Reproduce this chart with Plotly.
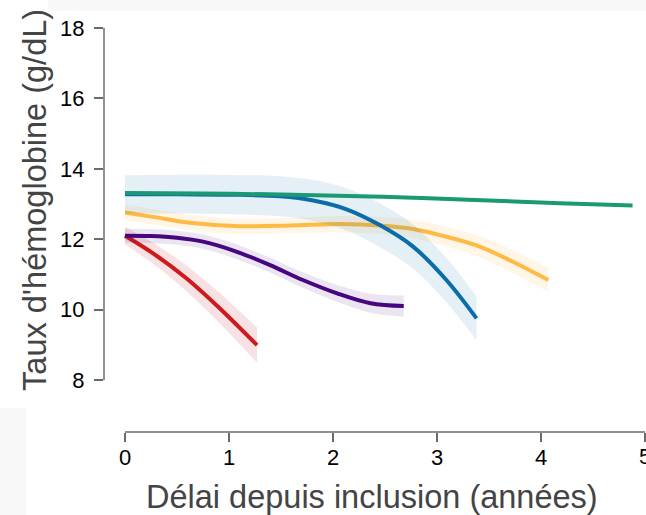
import plotly.graph_objects as go

# ---- data ----
red_x = [0, 0.27, 0.59, 0.91, 1.27]
red_y = [12.10, 11.60, 10.89, 10.04, 8.99]
red_hw = [0.25, 0.30, 0.36, 0.43, 0.50]

purple_x = [0, 0.25, 0.5, 0.75, 1.07, 1.39, 1.71, 2.04, 2.36, 2.68]
purple_y = [12.10, 12.09, 12.04, 11.93, 11.65, 11.27, 10.84, 10.46, 10.18, 10.10]
purple_hw = [0.20, 0.20, 0.20, 0.20, 0.21, 0.21, 0.22, 0.24, 0.27, 0.30]

yellow_x = [0, 0.3, 0.625, 1.1, 1.59, 2.07, 2.45, 2.77, 3.09, 3.41, 3.73, 4.07]
yellow_y = [12.76, 12.62, 12.47, 12.37, 12.39, 12.43, 12.39, 12.29, 12.07, 11.79, 11.36, 10.84]
yellow_hw = [0.22, 0.22, 0.22, 0.22, 0.22, 0.23, 0.24, 0.26, 0.28, 0.30, 0.32, 0.34]

blue_x = [0, 0.5, 1.1, 1.49, 1.81, 2.13, 2.45, 2.77, 3.09, 3.38]
blue_y = [13.28, 13.28, 13.26, 13.22, 13.10, 12.85, 12.40, 11.79, 10.84, 9.75]
blue_hw = [0.54, 0.55, 0.56, 0.57, 0.58, 0.60, 0.62, 0.63, 0.63, 0.62]

green_x = [0, 1.5, 2.85, 4.18, 4.88]
green_y = [13.31, 13.27, 13.17, 13.02, 12.96]
green_hw = [0.04, 0.04, 0.04, 0.04, 0.04]

x_ticks = [0, 1, 2, 3, 4, 5]
y_ticks = [8, 10, 12, 14, 16, 18]

series = [
    (red_x, red_y, red_hw, "#CC1A1F", "rgba(204,26,31,0.13)"),
    (purple_x, purple_y, purple_hw, "#45067F", "rgba(69,6,127,0.11)"),
    (yellow_x, yellow_y, yellow_hw, "#FDBA45", "rgba(253,186,69,0.13)"),
    (blue_x, blue_y, blue_hw, "#0A6DAA", "rgba(10,109,170,0.11)"),
    (green_x, green_y, green_hw, "#1A9A72", "rgba(26,154,114,0.15)"),
]

fig = go.Figure()
for xs, ys, hw, col, fillcol in series:
    lo = [y - h for y, h in zip(ys, hw)]
    hi = [y + h for y, h in zip(ys, hw)]
    fig.add_trace(go.Scatter(x=xs, y=lo, mode="lines", line=dict(width=0, shape="spline"),
                             showlegend=False, hoverinfo="skip"))
    fig.add_trace(go.Scatter(x=xs, y=hi, mode="lines", line=dict(width=0, shape="spline"),
                             fill="tonexty", fillcolor=fillcol, showlegend=False, hoverinfo="skip"))
    fig.add_trace(go.Scatter(x=xs, y=ys, mode="lines", line=dict(color=col, width=4, shape="spline"),
                             showlegend=False))

axis_col = "#6b6b6b"
tick_font = dict(size=22, color="black")
fig.update_layout(
    width=646, height=515,
    margin=dict(l=104, r=0, t=10, b=83),
    paper_bgcolor="white", plot_bgcolor="white",
    font=dict(family="Liberation Sans, Arial, sans-serif", color="black"),
    xaxis=dict(range=[-0.2019, 5.0096], tickvals=x_ticks, ticks="outside", ticklen=9,
               tickwidth=1.5, tickcolor=axis_col, showgrid=False, zeroline=False,
               showline=False, ticklabelstandoff=-3, tickfont=tick_font),
    yaxis=dict(range=[6.523, 18.511], tickvals=y_ticks, ticks="outside", ticklen=9,
               tickwidth=1.5, tickcolor=axis_col, showgrid=False, zeroline=False,
               showline=False, ticklabelstandoff=5, tickfont=tick_font),
    shapes=[
        dict(type="line", xref="paper", yref="y", x0=0, x1=0, y0=8, y1=18,
             line=dict(color=axis_col, width=1.5)),
        dict(type="line", xref="x", yref="paper", x0=0, x1=5, y0=0, y1=0,
             line=dict(color=axis_col, width=1.5)),
        dict(type="rect", xref="paper", yref="paper", x0=-0.1033, x1=1.0, y0=0.9976, y1=1.03,
             fillcolor="#f8f8f8", line=dict(width=0), layer="below"),
        dict(type="rect", xref="paper", yref="paper", x0=-0.2, x1=-0.1421, y0=-0.2, y1=0.0569,
             fillcolor="#f8f8f8", line=dict(width=0), layer="below"),
    ],
    annotations=[
        dict(text="Taux d'hémoglobine (g/dL)", xref="paper", yref="paper", x=-0.1273, y=0.55,
             textangle=-90, showarrow=False, xanchor="center", yanchor="middle",
             font=dict(size=32.5, color="#444444")),
        dict(text="Délai depuis inclusion (années)", xref="paper", yref="paper", x=0.4945, y=-0.154,
             showarrow=False, xanchor="center", yanchor="middle",
             font=dict(size=32.5, color="#444444")),
        # last x tick label (partly cut by the right edge, as in the reference)
        dict(text=str(x_ticks[-1]), xref="x", yref="paper", x=x_ticks[-1], y=-0.057,
             showarrow=False, xanchor="center", yanchor="middle", font=tick_font),
    ],
)

fig.write_html("out.html", config={"displayModeBar": False},
               post_script="document.body.style.margin='0';")
